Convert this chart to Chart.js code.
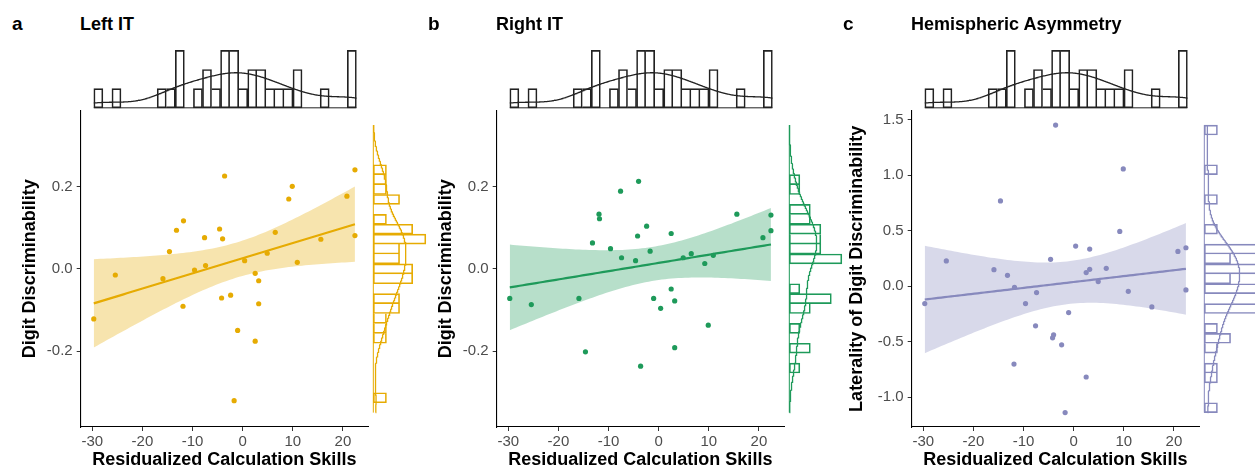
<!DOCTYPE html>
<html>
<head>
<meta charset="utf-8">
<script src="https://cdn.jsdelivr.net/npm/chart.js@4.4.1/dist/chart.umd.min.js"></script>
<style>
  html, body { margin: 0; padding: 0; width: 1255px; height: 471px; overflow: hidden; background: #fff; }
  #fig { position: relative; width: 1255px; height: 471px; overflow: hidden; }
  #fig canvas { position: absolute; top: 0; }
  .lab { position: absolute; font-family: "Liberation Sans", Arial, Helvetica, sans-serif; font-weight: bold; color: #000; white-space: nowrap; line-height: 1; }
</style>
</head>
<body>
<div id="fig"></div>
<script>
// ---- data ---------------------------------------------------------------
const calcSkills = [-29.7, -25.4, -15.9, -14.6, -13.2, -11.9, -11.8, -9.6, -7.6, -7.4, -4.6, -4.2, -4.0, -3.6, -2.4, -1.7, -1.0, 0.4, 2.5, 2.5, 3.2, 3.2, 4.9, 6.5, 9.2, 9.9, 10.9, 15.6, 20.8, 22.4, 22.4];
const leftIT = [-0.122, -0.015, -0.024, 0.042, 0.094, -0.091, 0.117, -0.003, 0.076, 0.008, 0.097, -0.071, 0.073, 0.226, -0.064, -0.321, -0.150, 0.020, -0.011, -0.176, -0.029, -0.085, 0.038, 0.089, 0.170, 0.201, 0.016, 0.072, 0.177, 0.241, 0.081];
const rightIT = [-0.072, -0.087, -0.072, -0.202, 0.063, 0.133, 0.122, 0.049, 0.189, 0.027, 0.020, 0.080, 0.213, -0.237, 0.104, 0.043, -0.072, -0.096, 0.086, -0.049, -0.078, -0.192, 0.027, 0.037, 0.013, -0.137, 0.033, 0.133, 0.076, 0.131, 0.093];
const asymmetry = [-0.156, 0.228, 0.150, 0.769, 0.099, -0.701, -0.009, -0.156, -0.356, -0.057, 0.243, -0.464, -0.437, 1.452, -0.527, -1.138, -0.237, 0.362, 0.123, -0.817, 0.153, 0.335, 0.042, 0.162, 0.494, 1.057, -0.045, -0.186, 0.314, 0.347, -0.033];

const panelLetters = ['a', 'b', 'c'];
const panelTitles = ['Left IT', 'Right IT', 'Hemispheric Asymmetry'];
const yTitles = ['Digit Discriminability', 'Digit Discriminability', 'Laterality of Digit Discriminability'];
const xTitle = 'Residualized Calculation Skills';
const xTicks = [-30, -20, -10, 0, 10, 20];
const yTicksIT = [-0.2, 0.0, 0.2];
const yTicksAsym = [-1.0, -0.5, 0.0, 0.5, 1.0, 1.5];
const yLimitsIT = [-0.35, 0.35];
const colours = ['#E6AB02', '#1E9A5A', '#8789BD'];

// ---- layout -------------------------------------------------------------
const FONT = '"Liberation Sans", Arial, Helvetica, sans-serif';
const plot = { left: 80.7, right: 369.5, top: 110.7, bottom: 427 };
const panelOffsets = [0, 416, 831];
const yTitlePad = [19, 19, 15];
const MAIN_W = 372, TOP_H = 112, SIDE_W = 440, H = 471;
const NBINS = 29;

const panels = [
  { y: leftIT,    lim: yLimitsIT, ticks: yTicksIT },
  { y: rightIT,   lim: yLimitsIT, ticks: yTicksIT },
  { y: asymmetry, lim: null,      ticks: yTicksAsym }
];

// ---- helpers ------------------------------------------------------------
const mean = a => a.reduce((s, v) => s + v, 0) / a.length;
const extent = a => [Math.min(...a), Math.max(...a)];
const expand = ([lo, hi]) => { const d = (hi - lo) * 0.05; return [lo - d, hi + d]; };
function rgba(hex, a) {
  const n = parseInt(hex.slice(1), 16);
  return `rgba(${n >> 16},${(n >> 8) & 255},${n & 255},${a})`;
}
function quantile(sorted, p) {
  const h = (sorted.length - 1) * p, f = Math.floor(h);
  const next = sorted[Math.min(f + 1, sorted.length - 1)];
  return sorted[f] + (h - f) * (next - sorted[f]);
}
function bwNrd0(v) {
  const m = mean(v);
  const sd = Math.sqrt(v.reduce((s, x) => s + (x - m) ** 2, 0) / (v.length - 1));
  const s = [...v].sort((a, b) => a - b);
  const iqr = quantile(s, 0.75) - quantile(s, 0.25);
  return 0.9 * Math.min(sd, iqr / 1.34) * Math.pow(v.length, -0.2);
}
// equal-width bins over [lo, hi]
function histogram(values, lo, hi) {
  const w = (hi - lo) / NBINS;
  const counts = new Array(NBINS).fill(0);
  values.forEach(v => {
    const i = Math.min(NBINS - 1, Math.max(0, Math.floor((v - lo) / w)));
    counts[i]++;
  });
  return { w, counts, centres: counts.map((_, i) => lo + (i + 0.5) * w) };
}
// gaussian kernel density, expressed in histogram count units
function density(values, lo, hi, w) {
  const h = bwNrd0(values), out = [];
  for (let k = 0; k < 512; k++) {
    const t = lo + (hi - lo) * k / 511;
    let s = 0;
    values.forEach(v => { const u = (t - v) / h; s += Math.exp(-0.5 * u * u); });
    out.push({ pos: t, val: s * w / (h * Math.sqrt(2 * Math.PI)) });
  }
  return out;
}
// least-squares fit with 95% confidence band
function linearFit(x, y) {
  const n = x.length, mx = mean(x), my = mean(y);
  let sxx = 0, sxy = 0;
  x.forEach((xi, i) => { sxx += (xi - mx) ** 2; sxy += (xi - mx) * (y[i] - my); });
  const b = sxy / sxx, a = my - b * mx;
  let rss = 0;
  x.forEach((xi, i) => { rss += (y[i] - a - b * xi) ** 2; });
  const s = Math.sqrt(rss / (n - 2));
  const tq = 2.0452; // t quantile 0.975, 29 degrees of freedom
  const [lo, hi] = extent(x);
  const line = [], upper = [], lower = [];
  for (let k = 0; k < 80; k++) {
    const t = lo + (hi - lo) * k / 79;
    const fit = a + b * t;
    const se = s * Math.sqrt(1 / n + (t - mx) ** 2 / sxx);
    line.push({ x: t, y: fit });
    upper.push({ x: t, y: fit + tq * se });
    lower.push({ x: t, y: fit - tq * se });
  }
  return { line, upper, lower };
}
function makeCanvas(left, w, h) {
  const c = document.createElement('canvas');
  c.width = w; c.height = h;
  c.style.left = left + 'px';
  c.style.width = w + 'px'; c.style.height = h + 'px';
  document.getElementById('fig').appendChild(c);
  return c;
}
function addLabel(text, left, top, size) {
  const d = document.createElement('div');
  d.className = 'lab';
  d.textContent = text;
  d.style.left = left + 'px'; d.style.top = top + 'px'; d.style.fontSize = size + 'px';
  document.getElementById('fig').appendChild(d);
}
const baseOpts = {
  responsive: false, animation: false, events: [],
  plugins: { legend: { display: false }, tooltip: { enabled: false } }
};

// ---- shared x marginal --------------------------------------------------
const xExt = extent(calcSkills);
const xRange = expand(xExt);
const xHist = histogram(calcSkills, xExt[0], xExt[1]);
const xDens = density(calcSkills, xExt[0], xExt[1], xHist.w);
const xMax = Math.max(...xHist.counts, ...xDens.map(d => d.val));

const plotW = plot.right - plot.left, plotH = plot.bottom - plot.top;

panels.forEach((p, idx) => {
  const off = panelOffsets[idx];
  const col = colours[idx];
  const yLim = p.lim || extent(p.y);
  const yRange = expand(yLim);
  const pts = calcSkills.map((x, i) => ({ x, y: p.y[i] }));
  const fit = linearFit(calcSkills, p.y);

  addLabel(panelLetters[idx], off + 12, 14, 19);
  addLabel(panelTitles[idx], off + 80, 15, 18);

  // main scatter panel
  new Chart(makeCanvas(off, MAIN_W, H), {
    type: 'scatter',
    data: {
      datasets: [
        { type: 'scatter', data: pts, pointRadius: 2.6, pointBorderWidth: 0, pointBackgroundColor: col },
        { type: 'line', data: fit.line, borderColor: col, borderWidth: 2.2, pointRadius: 0, fill: false },
        { type: 'line', data: fit.upper, borderWidth: 0, pointRadius: 0, fill: '+1', backgroundColor: rgba(col, 0.32) },
        { type: 'line', data: fit.lower, borderWidth: 0, pointRadius: 0, fill: false }
      ]
    },
    options: {
      ...baseOpts,
      layout: { padding: { left: 0, right: MAIN_W - plot.right, top: plot.top, bottom: 0 } },
      scales: {
        x: {
          type: 'linear', min: xRange[0], max: xRange[1],
          afterBuildTicks: s => { s.ticks = xTicks.map(v => ({ value: v })); },
          afterFit: s => { s.height = H - plot.bottom; },
          ticks: { autoSkip: false, color: '#4D4D4D', padding: 2, font: { family: FONT, size: 15 }, callback: v => String(v) },
          grid: { drawOnChartArea: false, tickLength: 4, color: '#333' },
          border: { display: true, color: '#000', width: 1.1 },
          title: { display: true, text: xTitle, color: '#000', font: { family: FONT, size: 18, weight: 'bold' }, padding: { top: 0, bottom: 0 } }
        },
        y: {
          type: 'linear', min: yRange[0], max: yRange[1],
          afterBuildTicks: s => { s.ticks = p.ticks.map(v => ({ value: v })); },
          afterFit: s => { s.width = plot.left; },
          ticks: { autoSkip: false, color: '#4D4D4D', padding: 4, font: { family: FONT, size: 15 }, callback: v => v.toFixed(1) },
          grid: { drawOnChartArea: false, tickLength: 4, color: '#333' },
          border: { display: true, color: '#000', width: 1.1 },
          title: { display: true, text: yTitles[idx], color: '#000', font: { family: FONT, size: 18, weight: 'bold' }, padding: { top: yTitlePad[idx], bottom: 0 } }
        }
      }
    }
  });

  // top marginal: histogram + density of calculation skills
  new Chart(makeCanvas(off, MAIN_W, TOP_H), {
    type: 'bar',
    data: {
      datasets: [
        {
          type: 'bar', data: xHist.centres.map((c, i) => ({ x: c, y: xHist.counts[i] })),
          backgroundColor: 'rgba(0,0,0,0)', borderColor: '#222', borderWidth: 1,
          borderSkipped: ctx => (ctx.dataIndex > 0 && xHist.counts[ctx.dataIndex - 1] >= xHist.counts[ctx.dataIndex]) ? 'left' : false,
          barPercentage: 1, categoryPercentage: 1, clip: false
        },
        { type: 'line', data: xDens.map(d => ({ x: d.pos, y: d.val })), borderColor: '#222', borderWidth: 1.3, pointRadius: 0, clip: false },
        { type: 'line', data: [{ x: xExt[0], y: 0 }, { x: xExt[1], y: 0 }], borderColor: '#222', borderWidth: 1, pointRadius: 0, clip: false }
      ]
    },
    options: {
      ...baseOpts,
      layout: { padding: { left: plot.left, right: MAIN_W - plot.right, top: plot.top - plotH / 5, bottom: TOP_H - plot.top } },
      scales: {
        x: { type: 'linear', display: false, offset: false, min: xRange[0], max: xRange[1] },
        y: { type: 'linear', display: false, min: -0.05 * xMax, max: 1.05 * xMax }
      }
    }
  });

  // right marginal: histogram + density of the panel's y values
  const yHist = histogram(p.y, yLim[0], yLim[1]);
  const yDens = density(p.y, yLim[0], yLim[1], yHist.w);
  const yMax = Math.max(...yHist.counts, ...yDens.map(d => d.val));
  const sideLeft = plot.right + 1.2, sideW = plotW / 5;
  new Chart(makeCanvas(off, SIDE_W, H), {
    type: 'bar',
    data: {
      datasets: [
        {
          type: 'bar', data: yHist.centres.map((c, i) => ({ y: c, x: yHist.counts[i] })),
          backgroundColor: 'rgba(0,0,0,0)', borderColor: col, borderWidth: 1,
          borderSkipped: ctx => (ctx.dataIndex < NBINS - 1 && yHist.counts[ctx.dataIndex + 1] >= yHist.counts[ctx.dataIndex]) ? 'top' : false,
          barPercentage: 1, categoryPercentage: 1, clip: false
        },
        { type: 'line', data: yDens.map(d => ({ y: d.pos, x: d.val })), borderColor: col, borderWidth: 1.3, pointRadius: 0, clip: false },
        { type: 'line', data: [{ y: yLim[0], x: 0 }, { y: yLim[1], x: 0 }], borderColor: col, borderWidth: 1, pointRadius: 0, clip: false }
      ]
    },
    options: {
      ...baseOpts,
      indexAxis: 'y',
      layout: { padding: { left: sideLeft, right: SIDE_W - sideLeft - sideW, top: plot.top, bottom: H - plot.bottom } },
      scales: {
        y: { type: 'linear', display: false, offset: false, min: yRange[0], max: yRange[1] },
        x: { type: 'linear', display: false, min: -0.05 * yMax, max: 1.05 * yMax }
      }
    }
  });
});
</script>
</body>
</html>
